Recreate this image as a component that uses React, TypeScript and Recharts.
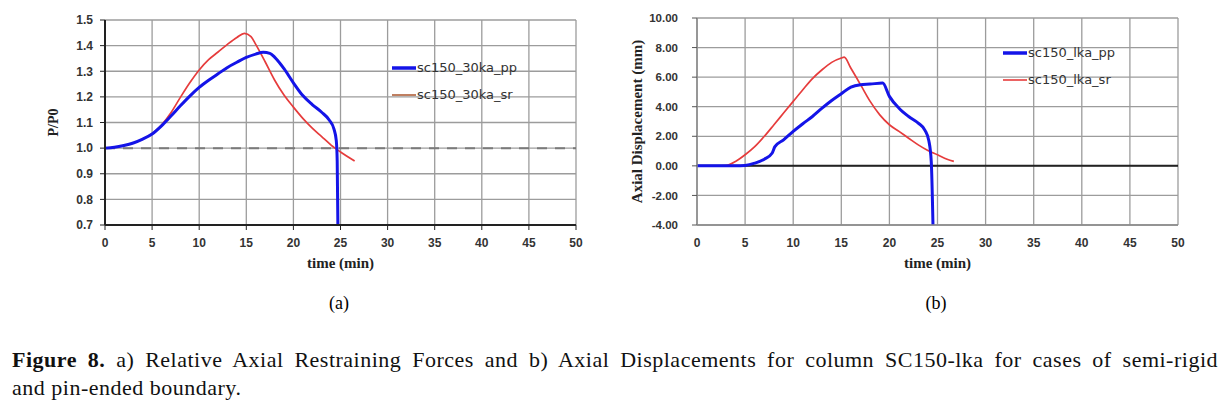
import React from 'react';
import { LineChart, Line, XAxis, YAxis, CartesianGrid, ReferenceLine, Legend } from 'recharts';

// shared x axis
const timeTicks = [0, 5, 10, 15, 20, 25, 30, 35, 40, 45, 50];

// (a) relative axial restraining force P/P0
const ratioTicks = [0.7, 0.8, 0.9, 1.0, 1.1, 1.2, 1.3, 1.4, 1.5];
const ppTimeA = [0, 1, 2, 3, 4, 5, 6, 7, 8, 9, 10, 11, 12, 13, 14, 15, 16, 16.8, 17.5, 18, 19, 20, 21, 22, 23, 23.8, 24.3, 24.55, 24.65, 24.75];
const ppRatioA = [1.0, 1.003, 1.01, 1.02, 1.035, 1.055, 1.087, 1.125, 1.165, 1.203, 1.237, 1.265, 1.29, 1.315, 1.335, 1.354, 1.367, 1.374, 1.37, 1.355, 1.31, 1.255, 1.205, 1.17, 1.14, 1.11, 1.075, 1.03, 0.95, 0.6];
const srTimeA = [0, 1, 2, 3, 4, 5, 6, 7, 8, 9, 10, 11, 12, 13, 14, 14.8, 15.5, 16, 17, 18, 19, 20, 21, 22, 23, 24, 25, 26.5];
const srRatioA = [1.0, 1.003, 1.01, 1.02, 1.035, 1.056, 1.09, 1.138, 1.198, 1.255, 1.305, 1.345, 1.375, 1.405, 1.432, 1.448, 1.435, 1.405, 1.337, 1.266, 1.207, 1.16, 1.116, 1.078, 1.045, 1.012, 0.985, 0.95];

// (b) axial displacement (mm)
const dispTicks = [-4, -2, 0, 2, 4, 6, 8, 10];
const ppTimeB = [0, 2, 4, 5, 6, 7, 7.8, 8.1, 9, 10, 11, 12, 13, 14, 15, 16, 17, 18, 19.3, 20, 21, 22, 23, 23.7, 24.1, 24.35, 24.55];
const ppDispB = [0, 0, 0, 0.03, 0.18, 0.45, 0.85, 1.3, 1.76, 2.33, 2.85, 3.34, 3.9, 4.42, 4.88, 5.33, 5.49, 5.53, 5.6, 4.7, 3.9, 3.34, 2.89, 2.4, 1.7, 0.3, -4.6];
const srTimeB = [0, 2, 3, 4, 5, 6, 7, 8, 9, 10, 11, 12, 13, 14, 15, 15.3, 16, 17, 18, 19, 20, 21, 22, 23, 24, 25, 26, 26.7];
const srDispB = [0, 0, 0.02, 0.3, 0.75, 1.3, 2.0, 2.78, 3.57, 4.36, 5.15, 5.9, 6.5, 7.0, 7.29, 7.35, 6.6, 5.49, 4.36, 3.45, 2.78, 2.33, 1.87, 1.42, 1.04, 0.75, 0.45, 0.3];

const BLUE = '#1414e8';
const RED = '#e63c3c';

const zip = (ts: number[], vs: number[]) => ts.map((t, i) => ({ t, v: vs[i] }));

const tickStyle = { fontSize: 12, fontWeight: 'bold', fill: '#333', fontFamily: '"Liberation Sans", Arial, sans-serif' };
const titleStyle = { fontSize: 15, fontWeight: 'bold', fill: '#222', fontFamily: '"Liberation Serif", "Times New Roman", serif' };

const makeLegend = (names: string[], colors: string[], widths: number[]) => () => (
  <div style={{ fontFamily: '"DejaVu Sans", Verdana, sans-serif', fontSize: 13, color: '#333' }}>
    {names.map((n, i) => (
      <div key={n} style={{ display: 'flex', alignItems: 'center', height: 27 }}>
        <svg width={24} height={6}>
          <line x1={0} y1={3} x2={24} y2={3} stroke={colors[i]} strokeWidth={widths[i]} />
        </svg>
        <span style={{ marginLeft: 1 }}>{n}</span>
      </div>
    ))}
  </div>
);

export default function App() {
  return (
    <div style={{ position: 'absolute', left: 0, top: 0, width: 1229, height: 410, background: '#fff' }}>
      <div style={{ position: 'absolute', left: 0, top: 0 }}>
        <LineChart width={600} height={280} margin={{ top: 20, right: 24, bottom: 0, left: 0 }}>
          <CartesianGrid stroke="#9c9c9c" strokeWidth={1.3} />
          <XAxis
            type="number"
            dataKey="t"
            domain={[0, 50]}
            ticks={timeTicks}
            interval={0}
            height={55}
            tick={tickStyle}
            tickSize={5}
            tickMargin={8}
            axisLine={{ stroke: '#222', strokeWidth: 2 }}
            tickLine={{ stroke: '#222' }}
            label={{ value: 'time (min)', position: 'insideBottom', offset: 12, style: titleStyle }}
          />
          <YAxis
            type="number"
            domain={[0.7, 1.5]}
            ticks={ratioTicks}
            interval={0}
            allowDataOverflow
            width={105}
            tick={tickStyle}
            tickSize={5}
            tickMargin={7}
            tickFormatter={(v: number) => v.toFixed(1)}
            axisLine={{ stroke: '#222', strokeWidth: 2 }}
            tickLine={{ stroke: '#222' }}
            label={{ value: 'P/P0', angle: -90, position: 'insideLeft', offset: 53, style: { ...titleStyle, fontSize: 14, textAnchor: 'middle' } }}
          />
          <ReferenceLine y={1} stroke="#7a7a7a" strokeWidth={2} strokeDasharray="10 8" />
          <Line data={zip(srTimeA, srRatioA)} dataKey="v" name="sc150_30ka_sr" type="monotone" stroke={RED} strokeWidth={1.7} dot={false} isAnimationActive={false} />
          <Line data={zip(ppTimeA, ppRatioA)} dataKey="v" name="sc150_30ka_pp" type="monotone" stroke={BLUE} strokeWidth={3} dot={false} isAnimationActive={false} />
          <Legend
            layout="vertical"
            align="center"
            verticalAlign="middle"
            content={makeLegend(['sc150_30ka_pp', 'sc150_30ka_sr'], [BLUE, '#b0603a'], [3.5, 1.6])}
            wrapperStyle={{ left: 392, top: 54, width: 180 }}
          />
        </LineChart>
      </div>

      <div style={{ position: 'absolute', left: 600, top: 0 }}>
        <LineChart width={600} height={280} margin={{ top: 18, right: 22, bottom: 0, left: 0 }}>
          <CartesianGrid stroke="#9c9c9c" strokeWidth={1.3} />
          <XAxis
            type="number"
            dataKey="t"
            domain={[0, 50]}
            ticks={timeTicks}
            interval={0}
            height={55}
            tick={tickStyle}
            tickSize={0}
            tickMargin={13}
            axisLine={{ stroke: '#8a8a8a', strokeWidth: 1.5 }}
            tickLine={false}
            label={{ value: 'time (min)', position: 'insideBottom', offset: 12, style: titleStyle }}
          />
          <YAxis
            type="number"
            domain={[-4, 10]}
            ticks={dispTicks}
            interval={0}
            allowDataOverflow
            width={97}
            tick={{ ...tickStyle, fontSize: 11.5 }}
            tickSize={5}
            tickMargin={14}
            tickFormatter={(v: number) => v.toFixed(2)}
            axisLine={{ stroke: '#8a8a8a', strokeWidth: 1.5 }}
            tickLine={{ stroke: '#555' }}
            label={{ value: 'Axial Displacement (mm)', angle: -90, position: 'insideLeft', offset: 37, style: { ...titleStyle, textAnchor: 'middle' } }}
          />
          <ReferenceLine y={0} stroke="#222" strokeWidth={2} />
          <Line data={zip(srTimeB, srDispB)} dataKey="v" name="sc150_lka_sr" type="monotone" stroke={RED} strokeWidth={1.7} dot={false} isAnimationActive={false} />
          <Line data={zip(ppTimeB, ppDispB)} dataKey="v" name="sc150_lka_pp" type="monotone" stroke={BLUE} strokeWidth={3} dot={false} isAnimationActive={false} />
          <Legend
            layout="vertical"
            align="center"
            verticalAlign="middle"
            content={makeLegend(['sc150_lka_pp', 'sc150_lka_sr'], [BLUE, RED], [3.5, 1.6])}
            wrapperStyle={{ left: 403, top: 39, width: 180 }}
          />
        </LineChart>
      </div>

      <div style={{ position: 'absolute', left: 289, width: 100, top: 293, textAlign: 'center', fontFamily: '"Liberation Serif", serif', fontSize: 18, lineHeight: '20px' }}>(a)</div>
      <div style={{ position: 'absolute', left: 886, width: 100, top: 293, textAlign: 'center', fontFamily: '"Liberation Serif", serif', fontSize: 18, lineHeight: '20px' }}>(b)</div>

      <div style={{ position: 'absolute', left: 12, top: 346, width: 1206, fontFamily: '"Liberation Serif", "Times New Roman", serif', fontSize: 22, lineHeight: '28px', letterSpacing: 0.5, color: '#111' }}>
        <div style={{ textAlign: 'justify', textAlignLast: 'justify' }}>
          <b>Figure 8.</b> a) Relative Axial Restraining Forces and b) Axial Displacements for column SC150-lka for cases of semi-rigid
        </div>
        <div>and pin-ended boundary.</div>
      </div>
    </div>
  );
}
